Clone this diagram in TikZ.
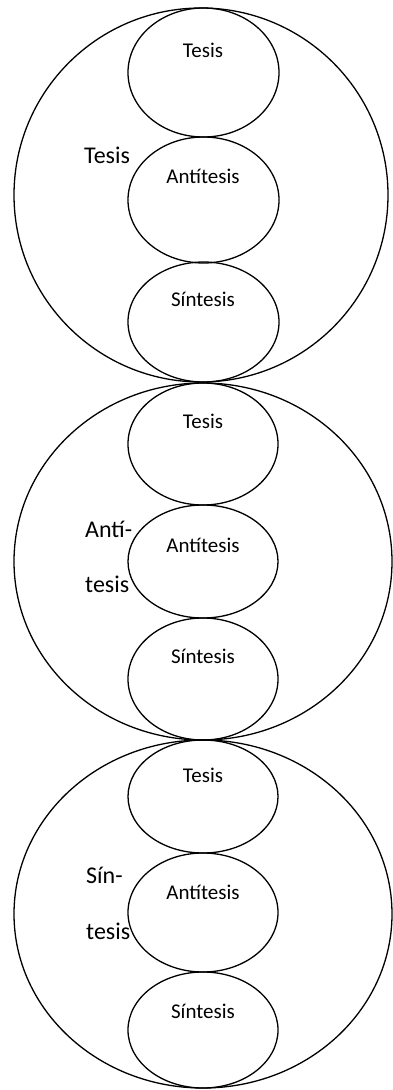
\documentclass[tikz,border=0pt]{standalone}
\usepackage{fontspec}
\setmainfont{Carlito}
\begin{document}
\begin{tikzpicture}[x=1pt,y=-1pt,
  ring/.style={draw=black,line width=1.3pt},
  inner/.style={font=\fontsize{21}{24}\selectfont,anchor=base,inner sep=0pt},
  outer/.style={font=\fontsize{24}{28}\selectfont,anchor=base west,inner sep=0pt}]
\useasboundingbox (0,0) rectangle (393,1090);

% Tesis group
\draw[ring] (201,195) ellipse [x radius=187,y radius=187];
\draw[ring] (203.5,72.5) ellipse [x radius=75.5,y radius=64.5];
\draw[ring] (203.5,200) ellipse [x radius=75.5,y radius=63];
\draw[ring] (203.5,322) ellipse [x radius=75.5,y radius=60];
\node[inner] (t1) at (203,57) {Tesis};
\node[inner] (a1) at (203,183) {Antítesis};
\node[inner] (s1) at (203,306) {Síntesis};
\node[outer] (g1) at (84,163) {Tesis};

% Antítesis group
\draw[ring] (203,561.5) ellipse [x radius=189,y radius=178.5];
\draw[ring] (203,444) ellipse [x radius=75,y radius=61];
\draw[ring] (203,561.5) ellipse [x radius=75,y radius=56.5];
\draw[ring] (203,679) ellipse [x radius=75,y radius=61];
\node[inner] (t2) at (203,428) {Tesis};
\node[inner] (a2) at (203,552) {Antítesis};
\node[inner] (s2) at (203,663) {Síntesis};
\node[outer] (g2a) at (85,537) {Antí-};
\node[outer] (g2b) at (85,592) {tesis};

% Síntesis group
\draw[ring] (203,914) ellipse [x radius=189,y radius=174];
\draw[ring] (203,796.5) ellipse [x radius=75,y radius=56.5];
\draw[ring] (203,912.5) ellipse [x radius=75,y radius=59.5];
\draw[ring] (203,1030) ellipse [x radius=75,y radius=58];
\node[inner] (t3) at (203,782) {Tesis};
\node[inner] (a3) at (203,899) {Antítesis};
\node[inner] (s3) at (203,1018) {Síntesis};
\node[outer] (g3a) at (86,883) {Sín-};
\node[outer] (g3b) at (86,939) {tesis};
\end{tikzpicture}
\end{document}
